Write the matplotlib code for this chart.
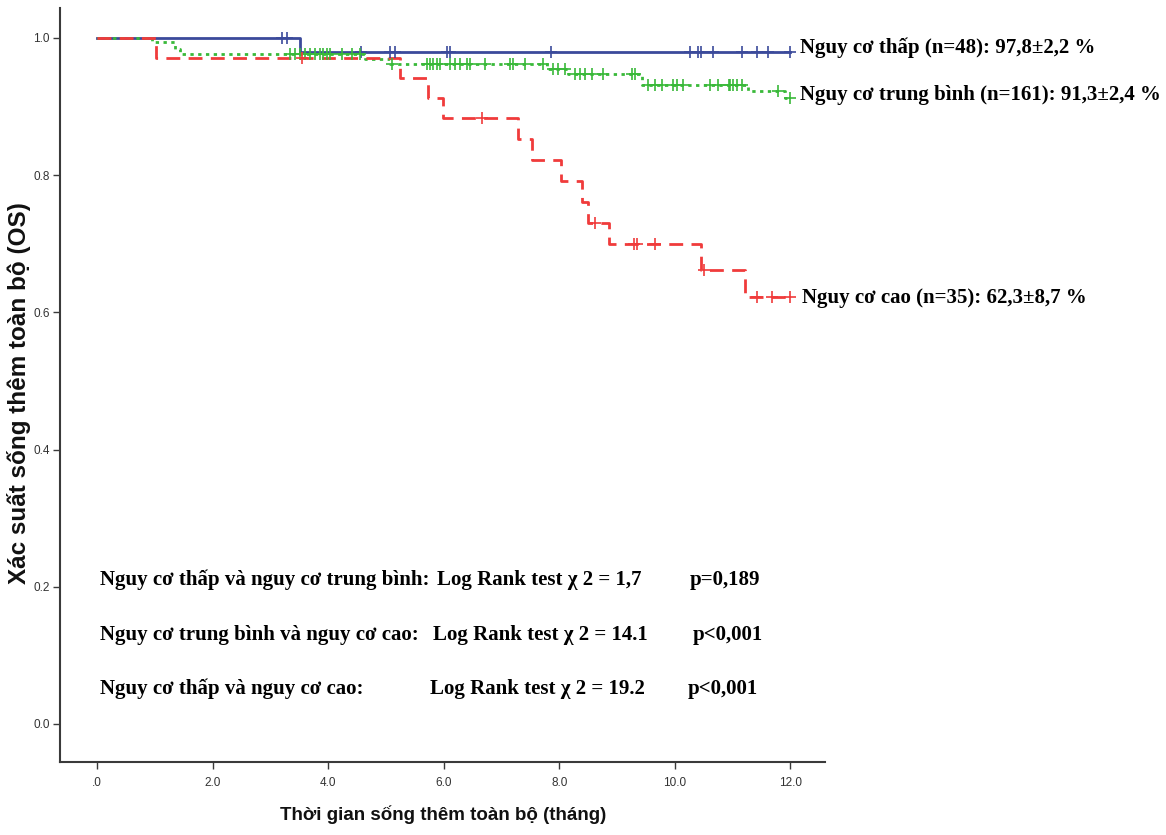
import numpy as np
import matplotlib
matplotlib.use("Agg")
import matplotlib.pyplot as plt
from matplotlib import font_manager

# ---------------- data ----------------
low_times = [0.0, 3.52]
low_surv = [1.0, 0.979]
low_censor = [3.20, 3.29, 4.57, 5.07, 5.16, 6.06, 6.11, 7.86, 10.27, 10.41,
              10.46, 10.67, 11.17, 11.43, 11.62, 12.0]

mid_times = [0.0, 0.95, 1.35, 1.44, 4.64, 5.07, 7.79, 8.16, 9.44, 11.27, 11.91]
mid_surv = [1.0, 0.994, 0.984, 0.976, 0.970, 0.962, 0.955, 0.947, 0.931, 0.922, 0.913]
mid_censor = [3.34, 3.43, 3.52, 3.60, 3.69, 3.77, 3.86, 3.91, 3.98, 4.03, 4.24, 4.42,
              4.55, 5.11, 5.71, 5.77, 5.82, 5.89, 5.94, 6.11, 6.20, 6.29, 6.41, 6.46,
              6.72, 7.15, 7.20, 7.41, 7.72, 7.90, 7.98, 8.10, 8.28, 8.36, 8.45, 8.57,
              8.76, 9.26, 9.32, 9.54, 9.66, 9.78, 9.97, 10.04, 10.15, 10.61, 10.74,
              10.93, 10.96, 11.01, 11.08, 11.17, 11.79, 12.0]

high_times = [0.0, 1.02, 5.25, 5.73, 5.99, 7.29, 7.53, 8.03, 8.40, 8.50, 8.87, 10.46, 11.22]
high_surv = [1.0, 0.971, 0.942, 0.913, 0.883, 0.853, 0.822, 0.792, 0.761, 0.731, 0.699, 0.662, 0.623]
high_censor = [3.55, 6.67, 8.62, 9.30, 9.35, 9.65, 10.51, 11.43, 11.69, 12.0]

end_time = 12.0

series_labels = ["Nguy cơ thấp (n=48): 97,8±2,2 %",
                 "Nguy cơ trung bình (n=161): 91,3±2,4 %",
                 "Nguy cơ cao (n=35): 62,3±8,7 %"]

x_ticks = [0, 2, 4, 6, 8, 10, 12]
x_ticklabels = [".0", "2.0", "4.0", "6.0", "8.0", "10.0", "12.0"]
y_ticks = [0.0, 0.2, 0.4, 0.6, 0.8, 1.0]
y_ticklabels = ["0.0", "0.2", "0.4", "0.6", "0.8", "1.0"]

test_pairs = ["Nguy cơ thấp và nguy cơ trung bình:",
              "Nguy cơ trung bình và nguy cơ cao:",
              "Nguy cơ thấp và nguy cơ cao:"]
test_stats = ["Log Rank test χ 2 = 1,7",
              "Log Rank test χ 2 = 14.1",
              "Log Rank test χ 2 = 19.2"]
test_p = ["p=0,189", "p<0,001", "p<0,001"]

xlabel = "Thời gian sống thêm toàn bộ (tháng)"
ylabel = "Xác suất sống thêm toàn bộ (OS)"

# ---------------- fonts ----------------
available = {f.name for f in font_manager.fontManager.ttflist}
narrow = "Liberation Sans Narrow" if "Liberation Sans Narrow" in available else "Liberation Sans"
serif = "Liberation Serif"
sans = "Liberation Sans"

# ---------------- figure ----------------
W, H = 1166, 835
fig = plt.figure(figsize=(W / 100, H / 100), dpi=100)
ax = fig.add_axes([60 / W, 73 / H, 765 / W, 754 / H])
ax.set_xlim(-0.64, 12.6)
ax.set_ylim(-0.0554, 1.0437)

colors = {"low": "#3b4a9b", "mid": "#39b939", "high": "#f03b3b"}


def km(ax, times, surv, censor, color, ls):
    t = list(times) + [end_time]
    s = list(surv) + [surv[-1]]
    line, = ax.step(t, s, where="post", color=color, lw=2.0, zorder=3)
    if ls == "dotted":
        line.set_dashes([1.2, 1.6])
    elif ls == "dashed":
        line.set_dashes([5, 3])
    idx = np.searchsorted(np.asarray(times), np.asarray(censor), side="right") - 1
    cs = np.asarray(surv)[idx]
    ax.plot(censor, cs, linestyle="none", marker="+", markersize=8,
            markeredgewidth=1.2, color=color, zorder=4)


km(ax, low_times, low_surv, low_censor, colors["low"], "solid")
km(ax, mid_times, mid_surv, mid_censor, colors["mid"], "dotted")
km(ax, high_times, high_surv, high_censor, colors["high"], "dashed")

for side in ["top", "right"]:
    ax.spines[side].set_visible(False)
for side in ["left", "bottom"]:
    ax.spines[side].set_color("#3a3a3a")
    ax.spines[side].set_linewidth(1.5)

ax.set_xticks(x_ticks)
ax.set_xticklabels(x_ticklabels)
ax.set_yticks(y_ticks)
ax.set_yticklabels(y_ticklabels)
ax.tick_params(axis="both", direction="out", length=5, width=1, color="#3a3a3a",
               labelsize=8.5, labelcolor="#333333")
ax.tick_params(axis="x", pad=6)
ax.tick_params(axis="y", pad=2.5)
for lab in ax.get_xticklabels() + ax.get_yticklabels():
    lab.set_fontfamily(narrow)

fig.text(443 / W, 1 - 815 / H, xlabel, ha="center", va="center",
         fontsize=13.5, fontweight="bold", family=narrow, color="#111111")
fig.text(19 / W, 1 - 393 / H, ylabel, ha="center", va="center", rotation=90,
         fontsize=17.5, fontweight="bold", family=sans, color="#111111")

# labels at right of curves
label_pos = [(800, 48), (800, 95), (802, 298)]
for txt, (x, y) in zip(series_labels, label_pos):
    fig.text(x / W, 1 - y / H, txt, ha="left", va="center", fontsize=15,
             fontweight="bold", family=serif, color="black")

# log-rank test block
rows_y = [580, 635, 689]
stat_x = [437, 433, 430]
p_x = [690, 693, 688]
for i in range(3):
    y = 1 - rows_y[i] / H
    fig.text(100 / W, y, test_pairs[i], ha="left", va="center", fontsize=15,
             fontweight="bold", family=serif)
    fig.text(stat_x[i] / W, y, test_stats[i], ha="left", va="center", fontsize=15,
             fontweight="bold", family=serif)
    fig.text(p_x[i] / W, y, test_p[i], ha="left", va="center", fontsize=15,
             fontweight="bold", family=serif)

fig.savefig("out.png", dpi=100)
